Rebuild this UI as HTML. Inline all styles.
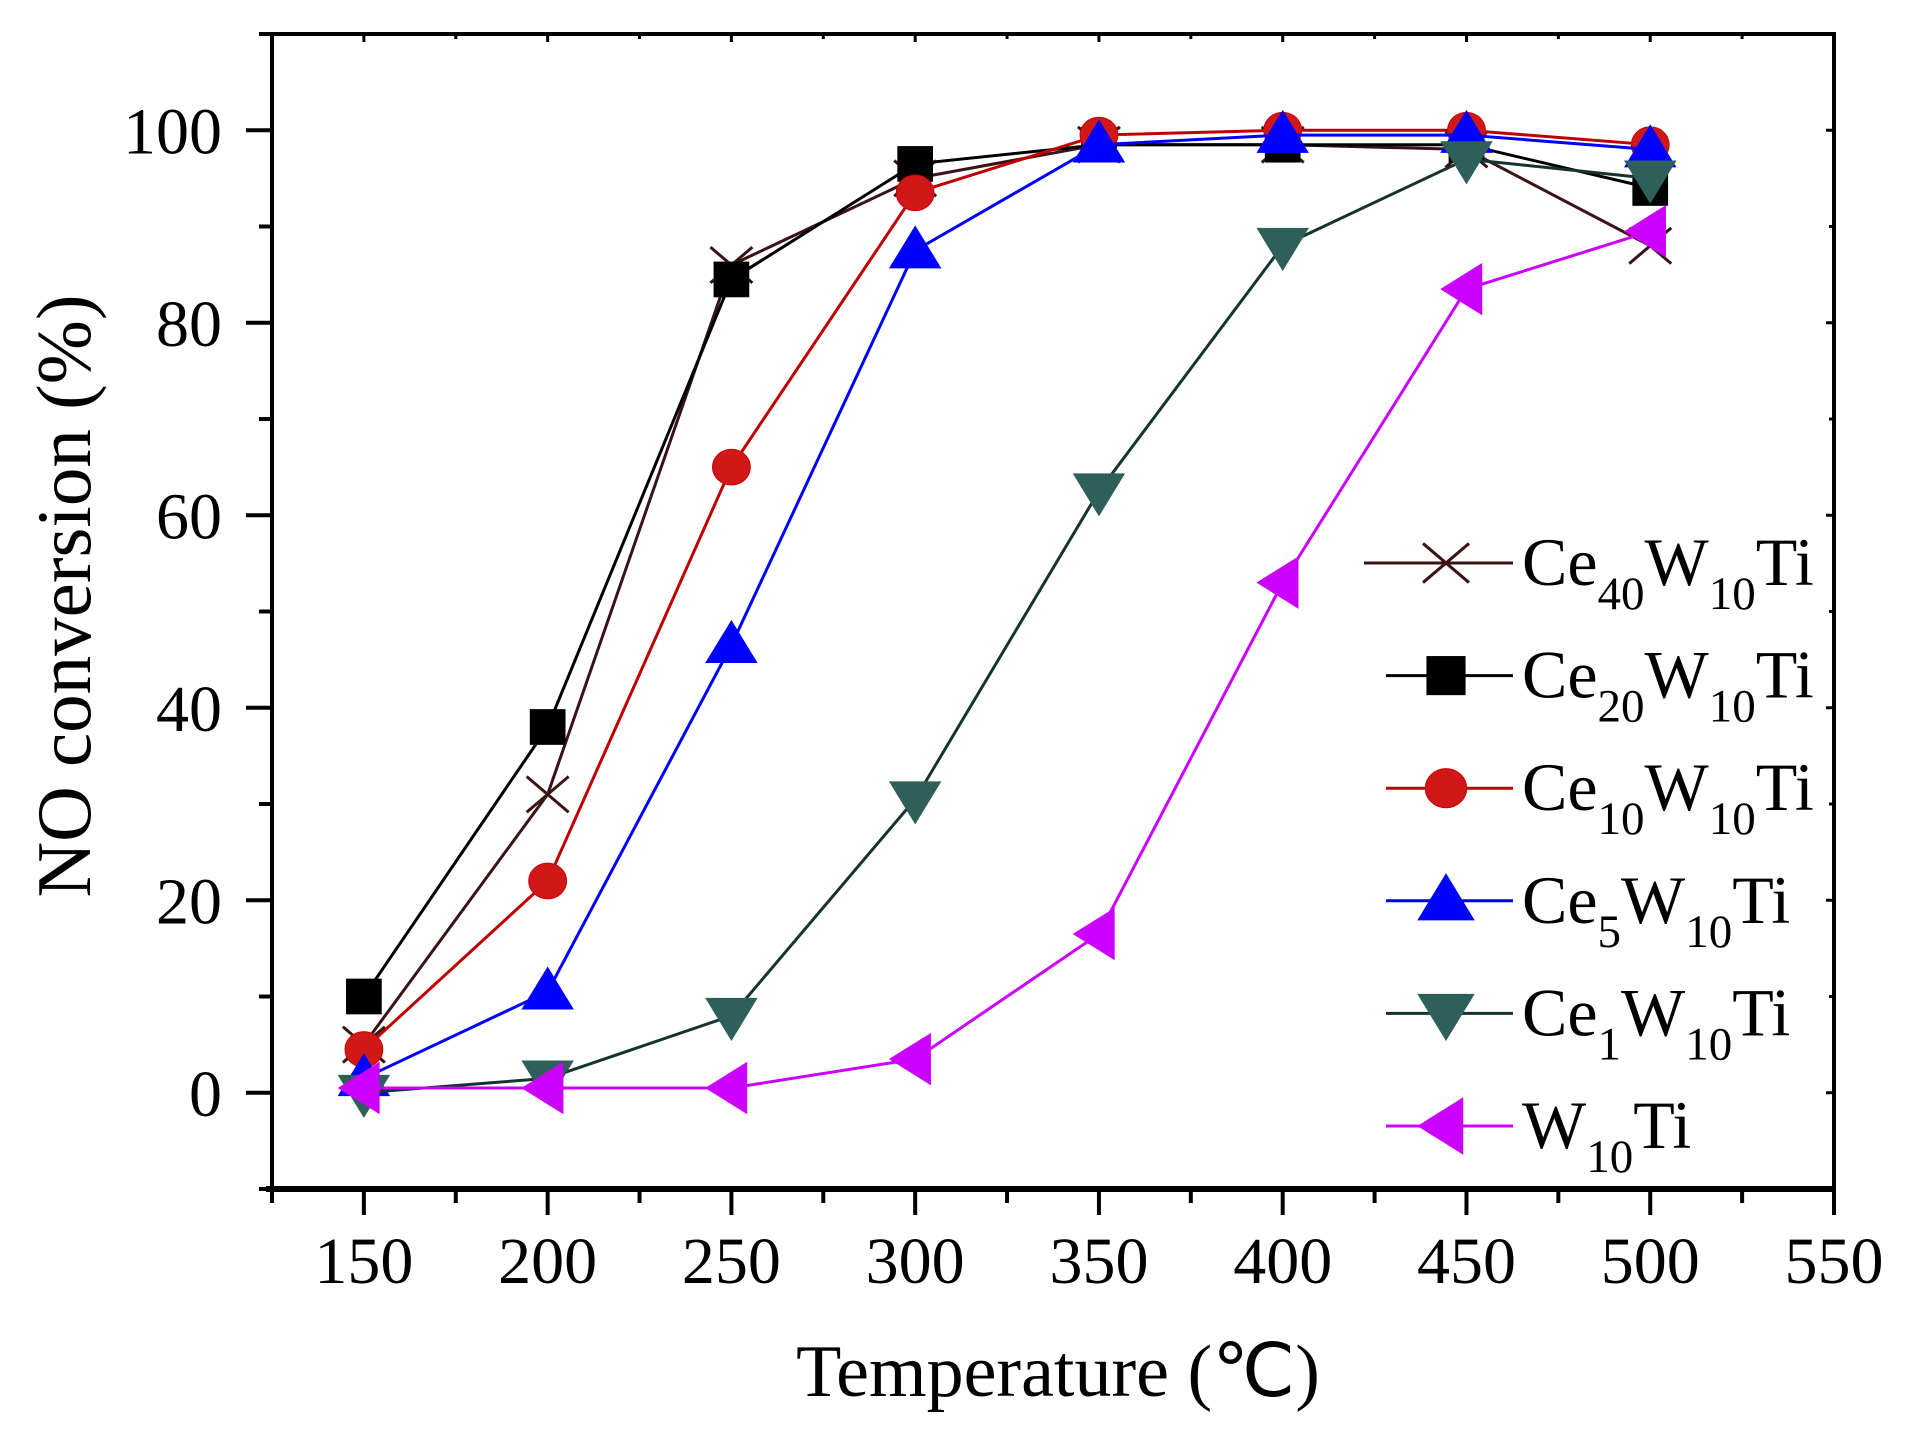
<!DOCTYPE html>
<html><head><meta charset="utf-8"><style>
html,body{margin:0;padding:0;background:#fff}
svg{display:block}
text{font-family:"Liberation Serif",serif;fill:#000}
</style></head><body>
<svg id="chart" width="1908" height="1444" viewBox="0 0 1908 1444" xmlns="http://www.w3.org/2000/svg">
<g id="axes"></g>
<g id="series"></g>
<g id="legend"></g>
<text x="1058" y="1396" font-size="74" text-anchor="middle">Temperature (℃)</text>
<text transform="translate(90,596) rotate(-90)" font-size="77" text-anchor="middle">NO conversion (%)</text>
</svg>
<script>
const categories = [150, 200, 250, 300, 350, 400, 450, 500];
const ce40 = [5, 31, 86, 95, 98.5, 98.5, 98, 88];
const ce20 = [10, 38, 84.5, 96.5, 98.5, 98.5, 98.5, 94];
const ce10 = [4.5, 22, 65, 93.5, 99.5, 100, 100, 98.5];
const ce5 = [1.5, 10.5, 46.5, 87.5, 98.5, 99.5, 99.5, 98];
const ce1 = [0, 1.5, 8, 30.5, 62.5, 88, 97, 95];
const w10 = [0.5, 0.5, 0.5, 3.5, 16.5, 53, 83.5, 89.5];
const xTicks = [150, 200, 250, 300, 350, 400, 450, 500, 550];
const yTicks = [0, 20, 40, 60, 80, 100];

const NS = "http://www.w3.org/2000/svg";
const L = 272, R = 1834, T = 34, B = 1189;
const xMin = 125, xMax = 550, yMin = -10, yMax = 110;
function px(v){ return L + (v - xMin) / (xMax - xMin) * (R - L); }
function py(v){ return B - (v - yMin) / (yMax - yMin) * (B - T); }
function mk(tag, attrs, parent){
  const e = document.createElementNS(NS, tag);
  for (const k in attrs) e.setAttribute(k, attrs[k]);
  parent.appendChild(e); return e;
}
const axes = document.getElementById('axes');
let e;
e = mk('rect', {x:L, y:T, width:R-L, height:B-T, fill:'none', stroke:'#000', 'stroke-width':4}, axes);


e = mk('line', {x1:L-6, y1:B, x2:R+2, y2:B, stroke:'#000', 'stroke-width':6}, axes);


for (let v = xMin; v <= xMax; v += 25) {
  const major = (v % 50 === 0);
  e = mk('line', {x1:px(v), y1:B, x2:px(v), y2:B + (major ? 26 : 14), stroke:'#000', 'stroke-width':4}, axes);
  
  
  e = mk('line', {x1:px(v), y1:T, x2:px(v), y2:T + (major ? 8 : 5), stroke:'#000', 'stroke-width':3}, axes);
  
  
}
xTicks.forEach(v => {
  const t = mk('text', {x:px(v), y:1283, 'font-size':66, 'text-anchor':'middle'}, axes);
  t.textContent = v;
  
  
});
for (let v = -10; v <= 110; v += 10) {
  const major = (v % 20 === 0);
  e = mk('line', {x1:L - (major ? 26 : 13), y1:py(v), x2:L, y2:py(v), stroke:'#000', 'stroke-width':4}, axes);
  
  
  e = mk('line', {x1:R - (major ? 8 : 5), y1:py(v), x2:R, y2:py(v), stroke:'#000', 'stroke-width':3}, axes);
  
  
}
yTicks.forEach(v => {
  const t = mk('text', {x:222, y:py(v) + 23, 'font-size':66, 'text-anchor':'end'}, axes);
  t.textContent = v;
  
  
});

function marker(type, cx, cy, fill, stroke, parent, s){
  s = s || 1;
  let m;
  if (type === 'x') {
    m = mk('path', {d:`M${cx-20*s},${cy-17*s}L${cx+20*s},${cy+17*s}M${cx-20*s},${cy+17*s}L${cx+20*s},${cy-17*s}`, stroke:stroke, 'stroke-width':3, fill:'none'}, parent);
  } else if (type === 'sq') {
    m = mk('rect', {x:cx-17*s, y:cy-17*s, width:34*s, height:34*s, fill:fill}, parent);
  } else if (type === 'ci') {
    m = mk('ellipse', {cx:cx, cy:cy, rx:18*s, ry:17*s, fill:fill, stroke:'#c00', 'stroke-width':1}, parent);
  } else if (type === 'up') {
    m = mk('path', {d:`M${cx},${cy-24*s}L${cx+25*s},${cy+17*s}L${cx-25*s},${cy+17*s}Z`, fill:fill}, parent);
  } else if (type === 'dn') {
    m = mk('path', {d:`M${cx},${cy+24*s}L${cx+25*s},${cy-17*s}L${cx-25*s},${cy-17*s}Z`, fill:fill}, parent);
  } else {
    m = mk('path', {d:`M${cx-25*s},${cy}L${cx+15*s},${cy-25*s}L${cx+15*s},${cy+25*s}Z`, fill:fill}, parent);
  }
  return m;
}
const seriesDefs = [
  {name:'ce40w10ti', data:ce40, line:'#3a1414', fill:'#3a1414', type:'x'},
  {name:'ce20w10ti', data:ce20, line:'#000', fill:'#000', type:'sq'},
  {name:'ce10w10ti', data:ce10, line:'#c00000', fill:'#d01818', type:'ci'},
  {name:'ce5w10ti', data:ce5, line:'#0000ff', fill:'#0000ff', type:'up'},
  {name:'ce1w10ti', data:ce1, line:'#163330', fill:'#2f5f5a', type:'dn'},
  {name:'w10ti', data:w10, line:'#cc00ff', fill:'#cc00ff', type:'lt'}
];
const sg = document.getElementById('series');
seriesDefs.forEach(s => {
  const g = mk('g', {}, sg);
  
  
  const pts = s.data.map((v, i) => px(categories[i]) + ',' + py(v)).join(' ');
  const pl = mk('polyline', {points:pts, fill:'none', stroke:s.line, 'stroke-width':3}, g);
  
  
  s.data.forEach((v, i) => {
    const m = marker(s.type, px(categories[i]), py(v), s.fill, s.line, g, 1.05);
    
    
  });
});
const lg = document.getElementById('legend');
const labels = [['Ce','40','W','10','Ti'],['Ce','20','W','10','Ti'],['Ce','10','W','10','Ti'],['Ce','5','W','10','Ti'],['Ce','1','W','10','Ti'],['W','10','Ti']];
seriesDefs.forEach((s, i) => {
  const y = 563 + i * 112.6;
  const g = mk('g', {}, lg);
  
  
  const x1 = i === 0 ? 1364 : 1386;
  mk('line', {x1:x1, y1:y, x2:1513, y2:y, stroke:s.line, 'stroke-width':3}, g);
  marker(s.type, 1446, y, s.fill, s.line, g, 1.15);
  const t = mk('text', {x:1522, y:y + 22, 'font-size':68}, g);
  labels[i].forEach((part, j) => {
    const isSub = /^\d+$/.test(part);
    const ts = mk('tspan', isSub ? {'font-size':47, dy:24} : (j > 0 ? {dy:-24} : {}), t);
    ts.textContent = part;
  });
});
</script>
</body></html>
